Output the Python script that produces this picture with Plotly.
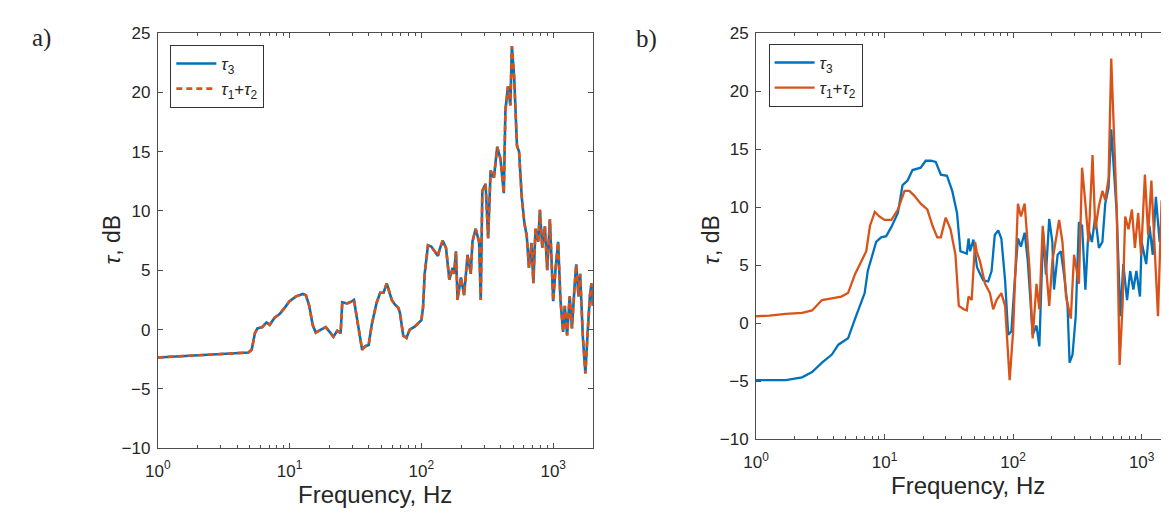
import plotly.graph_objects as go

# ---------------- Panel a) data ----------------
freq_a = [1, 4.87, 5.16, 5.46, 5.7, 6.2, 6.68, 7.07, 7.7, 8.4, 9.2, 10, 11.2, 12.6, 13.3, 14.1,
          14.96, 15.8, 17.3, 18.8, 20.5, 21.5, 23, 24.4, 25.1, 27.4, 29.9, 30.8, 32.5, 35.5,
          37.6, 39.8, 42, 45.7, 48.7, 51.6, 54.6, 57.1, 59.6, 63.1, 66.8, 68.8, 72.8, 77.1,
          81.6, 89, 94.4, 100, 102.9, 105.9, 112.2, 118.9, 126, 133.4, 137, 145, 153.7, 163,
          172.6, 177, 183, 188, 199.5, 211, 224, 237, 244, 258, 274, 282, 290, 307, 321, 335,
          355, 376, 398, 422, 434, 454, 473, 486, 506, 531, 551, 577, 604, 630, 655, 686, 707,
          734, 770, 793, 826, 865, 901, 944, 972, 1000, 1040, 1090, 1135, 1189, 1225, 1275,
          1334, 1388, 1452, 1496, 1556, 1602, 1680, 1755, 1820, 1897, 1950, 2000]
tau3_a = [-2.35, -1.94, -1.7, -0.3, 0.1, 0.2, 0.6, 0.4, 1.0, 1.3, 1.85, 2.4, 2.8, 3.0, 2.9, 2.0,
          0.4, -0.25, 0.0, 0.2, -0.3, -0.6, -0.1, -0.3, 2.3, 2.2, 2.4, 2.5, 0.9, -1.7,
          -1.4, -1.3, 0.4, 2.25, 3.1, 3.1, 3.9, 3.1, 2.5, 2.1, 1.85, 1.4, -0.5, -0.7,
          0.0, 0.25, 0.5, 0.8, 1.85, 4.7, 7.1, 7.0, 6.6, 6.2, 6.7, 7.5, 6.9, 4.2,
          5.2, 4.7, 6.6, 2.5, 4.4, 2.9, 6.3, 4.7, 7.4, 8.5, 7.4, 2.5, 11.7, 12.3, 7.7, 13.4,
          12.8, 15.4, 14.4, 11.5, 18.5, 20.5, 18.9, 23.9, 21.2, 15.5, 15.0, 11.2, 9.0, 7.9, 5.2, 7.3, 3.9,
          8.5, 7.4, 10.1, 6.9, 8.7, 5.0, 9.3, 5.8, 2.4, 5.0, 7.4, 2.5, -0.2, 2.0, -0.5,
          2.8, 0.1, 3.6, 5.5, 2.8, 4.7, -0.7, -3.7, -0.5, 2.8, 3.9, 2.0]
tau12_a = [-2.35, -1.94, -1.7, -0.3, 0.1, 0.2, 0.6, 0.4, 1.0, 1.3, 1.85, 2.4, 2.8, 3.0, 2.9, 2.0,
           0.4, -0.25, 0.0, 0.2, -0.3, -0.6, -0.1, -0.3, 2.3, 2.2, 2.4, 2.5, 0.9, -1.7,
           -1.4, -1.3, 0.4, 2.25, 3.1, 3.1, 3.9, 3.1, 2.5, 2.1, 1.85, 1.4, -0.5, -0.7,
           0.0, 0.25, 0.5, 0.8, 1.85, 4.7, 7.1, 7.0, 6.6, 6.2, 6.7, 7.5, 6.9, 4.2,
           5.2, 4.7, 6.6, 2.5, 4.4, 2.9, 6.3, 4.7, 7.4, 8.5, 7.4, 2.5, 11.7, 12.3, 7.7, 13.4,
           12.8, 15.4, 14.4, 11.5, 18.5, 20.5, 18.9, 23.9, 21.2, 15.5, 15.0, 11.2, 9.0, 7.9, 5.2, 7.3, 3.9,
           8.5, 7.4, 10.1, 6.9, 8.7, 5.0, 9.3, 5.8, 2.4, 5.0, 7.4, 2.5, -0.2, 2.0, -0.5,
           2.8, 0.1, 3.6, 5.5, 2.8, 4.7, -0.7, -3.7, -0.5, 2.8, 3.9, 2.0]

# ---------------- Panel b) data ----------------
freq_b3 = [1, 1.7, 2.28, 2.73, 3.26, 3.89, 4.37, 5.2, 5.9, 6.4, 7.0, 7.4, 7.9, 8.6, 9.4, 10.3,
           11.3, 12.7, 13.8, 15.1, 16.5, 19.1, 20.9, 22.9, 25.0, 27.4, 30.6, 33.6, 36.6, 38.9,
           43.6, 45, 46.3, 49.1, 52.4, 58.5, 64, 68, 72, 76.6, 81, 86.6, 91.6, 97, 103, 109,
           115, 123, 130, 142, 152, 160, 171, 180, 191, 202, 208, 222, 235, 249, 265, 275,
           290, 307, 325, 344, 365, 386, 410, 436, 465, 495, 521, 553, 580, 600, 640, 682,
           720, 770, 814, 862, 910, 970, 1000, 1085, 1150, 1220, 1290, 1380, 1450, 1560,
           1650, 1750, 1850]
tau3_b = [-4.9, -4.9, -4.66, -4.2, -3.4, -2.7, -1.85, -1.3, 0.4, 1.5, 2.6, 4.5, 5.6, 7.0, 7.4, 7.5,
          8.3, 9.5, 11.9, 12.3, 13.2, 13.4, 14.0, 14.0, 13.9, 12.8, 12.7, 11.4, 9.5, 6.2,
          6.0, 7.3, 6.2, 7.2, 4.8, 3.7, 3.6, 4.5, 7.6, 8.0, 7.3, 3.7, -1.0, -0.7, 3.7, 7.3,
          6.6, 7.8, 5.4, -1.0, -0.2, -2.0, 7.8, 4.2, 9.0, 7.0, 2.9, 5.9, 6.2, 4.2, 1.5, -3.4,
          -2.7, 0.6, 8.7, 8.4, 2.9, 8.1, 7.0, 9.2, 6.5, 7.0, 10.3, 11.7, 16.7, 14.5, 9.5, 0.6,
          5.1, 2.0, 4.5, 2.9, 4.5, 2.3, 7.0, 5.1, 8.4, 5.9, 10.9, 7.0, 9.8, 14.8,
          8.7, 14.0, 9.2]

freq_b12 = [1, 1.27, 1.7, 2.28, 2.73, 3.26, 3.89, 4.6, 5.2, 5.9, 6.6, 7.2, 7.7, 8.4, 9.1, 10.0,
            11.3, 12.7, 14.3, 15.6, 17.0, 19.1, 21.5, 23.6, 25.7, 27.4, 29.9, 32.6, 35.6, 37.8,
            41.3, 43.6, 45, 47.6, 50.6, 52, 55.2, 60.5, 66, 70, 74.3, 81, 86.6, 94, 100, 109,
            115, 123, 134, 142, 152, 160, 170, 180, 191, 202, 215, 228, 242, 258, 281, 298,
            325, 344, 365, 386, 415, 436, 465, 495, 521, 553, 580, 600, 640, 674, 710, 745,
            790, 840, 886, 940, 990, 1060, 1124, 1190, 1260, 1340, 1430, 1520, 1600, 1700, 1790]
tau12_b = [0.6, 0.65, 0.8, 0.9, 1.1, 2.0, 2.15, 2.3, 2.6, 4.25, 5.35, 6.2, 8.4, 9.6, 9.2, 8.9,
           8.9, 9.8, 11.4, 11.4, 11.0, 10.3, 9.8, 8.4, 7.4, 7.4, 9.1, 8.1, 5.9, 1.5,
           1.2, 1.1, 2.3, 2.0, 7.0, 6.2, 5.35, 3.4, 2.6, 1.2, 2.0, 2.6, 1.5, -4.9, -0.7, 10.3,
           9.2, 10.3, 4.8, -1.3, 3.4, 1.2, 8.4, 4.8, 1.5, 5.35, 7.0, 8.9, 7.0, 2.3, 0.4, 5.9,
           3.4, 13.4, 10.3, 7.0, 14.5, 8.1, 10.1, 11.4, 10.6, 12.5, 22.8, 18.1, 9.8, -3.6, 1.5, 9.2,
           8.1, 9.8, 6.5, 9.5, 5.9, 12.8, 7.6, 12.3, 7.0, 0.6, 10.6, 4.25, 12.5, 8.1, 2.6]

# ---------------- Axis / labels ----------------
xtick_vals = [1, 10, 100, 1000]
xtick_text = ["10<sup>0</sup>", "10<sup>1</sup>", "10<sup>2</sup>", "10<sup>3</sup>"]
xminor_vals = [2, 3, 4, 5, 6, 7, 8, 9, 20, 30, 40, 50, 60, 70, 80, 90,
               200, 300, 400, 500, 600, 700, 800, 900]
ytick_vals = [-10, -5, 0, 5, 10, 15, 20, 25]
name3 = "<i>τ</i><sub>3</sub>"
name12 = "<i>τ</i><sub>1</sub>+<i>τ</i><sub>2</sub>"

BLUE = "#0072BD"
ORANGE = "#D95319"
AX = "#4d4d4d"
TXT = "#262626"
W, H = 1169, 514

fig = go.Figure()
fig.add_trace(go.Scatter(x=freq_a, y=tau3_a, mode="lines", name=name3,
                         line=dict(color=BLUE, width=2.6), xaxis="x", yaxis="y", legend="legend"))
fig.add_trace(go.Scatter(x=freq_a, y=tau12_a, mode="lines", name=name12,
                         line=dict(color=ORANGE, width=2.6, dash="6px,4px"), xaxis="x", yaxis="y",
                         legend="legend"))
fig.add_trace(go.Scatter(x=freq_b3, y=tau3_b, mode="lines", name=name3,
                         line=dict(color=BLUE, width=2.3), xaxis="x2", yaxis="y2", legend="legend2"))
fig.add_trace(go.Scatter(x=freq_b12, y=tau12_b, mode="lines", name=name12,
                         line=dict(color=ORANGE, width=2.3), xaxis="x2", yaxis="y2", legend="legend2"))


def px_x(p):
    return p / W


def px_y(p):
    return 1 - p / H


common_x = dict(type="log", tickvals=xtick_vals, ticktext=xtick_text, ticks="inside", ticklen=5,
                tickcolor=AX, showline=True, linecolor=AX, linewidth=1, showgrid=False,
                zeroline=False, tickfont=dict(family="Liberation Sans", size=17, color=TXT),
                ticklabelstandoff=7,
                minor=dict(tickvals=xminor_vals, ticks="inside", ticklen=3, tickcolor=AX,
                           showgrid=False),
                mirror="ticks")
common_y = dict(range=[-10, 25], tickvals=ytick_vals, ticks="inside", ticklen=5, tickcolor=AX,
                showline=True, linecolor=AX, linewidth=1, showgrid=False, zeroline=False,
                ticklabelstandoff=3,
                tickfont=dict(family="Liberation Sans", size=17, color=TXT))

leg_common = dict(xanchor="left", yanchor="top", bgcolor="white", bordercolor="#333",
                  borderwidth=1, font=dict(family="Liberation Sans", size=17, color=TXT),
                  tracegroupgap=0, itemwidth=40)

fig.update_layout(
    width=W, height=H, margin=dict(l=0, r=0, t=0, b=0),
    paper_bgcolor="white", plot_bgcolor="white",
    xaxis=dict(common_x, domain=[px_x(138.3), px_x(578.3)], range=[0, 3.301], anchor="y"),
    yaxis=dict(common_y, domain=[px_y(447.7), px_y(16.7)], anchor="x", mirror="ticks"),
    xaxis2=dict(common_x, domain=[px_x(743.3), 1.0], range=[0, 3.275], anchor="y2"),
    yaxis2=dict(common_y, domain=[px_y(438.5), px_y(16.7)], anchor="x2", mirror=False),
    legend=dict(leg_common, x=px_x(151), y=px_y(29)),
    legend2=dict(leg_common, x=px_x(756), y=px_y(28)),
    showlegend=True,
)

annots = [
    dict(text="Frequency, Hz", x=px_x(358), y=px_y(496), font=dict(size=24)),
    dict(text="Frequency, Hz", x=px_x(958), y=px_y(487), font=dict(size=24)),
    dict(text="<i>τ</i>, dB", x=px_x(92), y=px_y(231), textangle=-90, font=dict(size=23)),
    dict(text="<i>τ</i>, dB", x=px_x(698), y=px_y(231), textangle=-90, font=dict(size=23)),
    dict(text="a)", x=px_x(21), y=px_y(22), font=dict(size=25, family="Liberation Serif")),
    dict(text="b)", x=px_x(633), y=px_y(23), font=dict(size=25, family="Liberation Serif")),
]
for a in annots:
    f = dict(family="Liberation Sans", color=TXT)
    f.update(a.pop("font"))
    fig.add_annotation(xref="paper", yref="paper", xanchor="center", yanchor="middle",
                       showarrow=False, font=f, **a)

fig.write_html("out.html")
